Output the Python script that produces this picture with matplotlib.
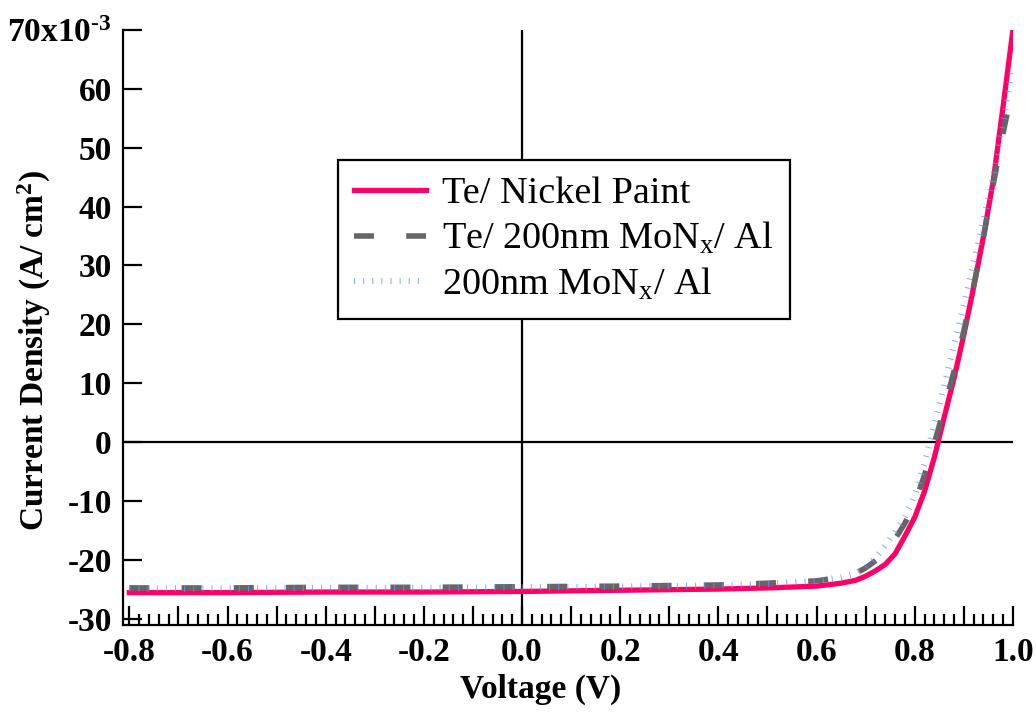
import numpy as np
import matplotlib.pyplot as plt
from matplotlib.ticker import MultipleLocator, FuncFormatter

plt.rcParams['font.family'] = ['Liberation Serif', 'DejaVu Serif']
plt.rcParams['mathtext.fontset'] = 'custom'
plt.rcParams['mathtext.rm'] = 'Liberation Serif'
plt.rcParams['mathtext.bf'] = 'Liberation Serif:bold'
plt.rcParams['mathtext.it'] = 'Liberation Serif:italic'
plt.rcParams['axes.unicode_minus'] = False

# voltage (V) and current density (1e-3 A/cm^2)
voltage = [-0.8, -0.6, -0.4, -0.2, 0.0, 0.2, 0.4, 0.5, 0.6, 0.65, 0.68, 0.7, 0.72, 0.74,
           0.76, 0.78, 0.8, 0.82, 0.84, 0.86, 0.88, 0.9, 0.92, 0.94, 0.96, 0.98, 1.0]
j_nickel = [-25.6, -25.6, -25.5, -25.5, -25.4, -25.2, -25.0, -24.8, -24.5, -24.0, -23.5, -22.8,
            -21.9, -20.8, -19.0, -16.0, -12.8, -8.4, -2.6, 4.2, 10.8, 18.2, 26.3, 34.9, 44.4, 57.0, 70.0]
j_te_monx = [-24.8, -24.8, -24.7, -24.7, -24.6, -24.5, -24.3, -24.0, -23.6, -23.0, -22.3, -21.4,
             -20.2, -18.8, -16.5, -13.8, -10.5, -5.6, -0.2, 5.7, 12.0, 18.9, 26.5, 34.8, 43.8, 52.5, 60.5]
j_monx = [-24.9, -24.9, -24.8, -24.8, -24.7, -24.6, -24.4, -24.1, -23.6, -23.0, -22.3, -21.3,
          -19.7, -17.6, -15.3, -12.7, -9.1, -3.6, 3.0, 9.5, 16.5, 23.3, 30.4, 37.7, 45.0, 54.2, 64.0]

labels = ['Te/ Nickel Paint', 'Te/ 200nm MoN$_{\\mathrm{x}}$/ Al', '200nm MoN$_{\\mathrm{x}}$/ Al']

fig = plt.figure(figsize=(10.36, 7.15), dpi=100)
ax = fig.add_axes([0.1187, 0.1259, 0.859, 0.832])

ax.plot(voltage, j_nickel, color='#ff0066', lw=3.8, label=labels[0], zorder=3)
ax.plot(voltage, j_te_monx, color='#666666', lw=4, dashes=(3.6, 5.8),
        dash_capstyle='butt', label=labels[1], zorder=4)
ax.plot(voltage, j_monx, color='#6f8fff', lw=4.5, alpha=0.8, dashes=(0.16, 1.3),
        dash_capstyle='butt', label=labels[2], zorder=5)

ax.axhline(0, color='black', lw=1.6, zorder=2)
ax.axvline(0, color='black', lw=1.6, zorder=2)

ax.set_xlim(-0.813, 1.0)
ax.set_ylim(-31.1, 70)

for s in ['top', 'right']:
    ax.spines[s].set_visible(False)
for s in ['left', 'bottom']:
    ax.spines[s].set_linewidth(1.6)

ax.xaxis.set_major_locator(MultipleLocator(0.1))
ax.xaxis.set_minor_locator(MultipleLocator(0.02))
ax.yaxis.set_major_locator(MultipleLocator(10))


def xfmt(v, pos):
    k = int(round(v * 10))
    if k % 2:
        return ''
    return '%.1f' % v


def yfmt(v, pos):
    if abs(v - 70) < 1e-6:
        return '70x10$^{\\mathbf{\\text{-}3}}$'
    return '%d' % round(v)


ax.xaxis.set_major_formatter(FuncFormatter(xfmt))
ax.yaxis.set_major_formatter(FuncFormatter(yfmt))

ax.tick_params(axis='both', which='major', direction='in', length=14, width=1.6, labelsize=24)
ax.tick_params(axis='x', which='minor', direction='in', length=8, width=1.6)
ax.tick_params(axis='x', which='major', pad=9)
ax.tick_params(axis='y', which='major', pad=8)
for t in ax.get_xticklabels() + ax.get_yticklabels():
    t.set_fontweight('bold')

ax.set_xlabel('Voltage (V)', fontsize=24, fontweight='bold')
ax.set_ylabel('Current Density (A/ cm$^{\\mathbf{2}}$)', fontsize=24, fontweight='bold')
ax.xaxis.set_label_coords(0.469, -0.109)
ax.xaxis.label.set_va('center')
ax.yaxis.set_label_coords(-0.099, 0.462)
ax.yaxis.label.set_va('center')

leg = ax.legend(loc='upper left', bbox_to_anchor=(0.326, 0.776), bbox_transform=fig.transFigure,
                fontsize=27.5, frameon=True, fancybox=False, framealpha=1, edgecolor='black',
                borderaxespad=0, handlelength=1.9, handletextpad=0.42, labelspacing=0.25,
                borderpad=0.42)
leg.get_frame().set_linewidth(1.6)

fig.savefig('out.png', dpi=100)
